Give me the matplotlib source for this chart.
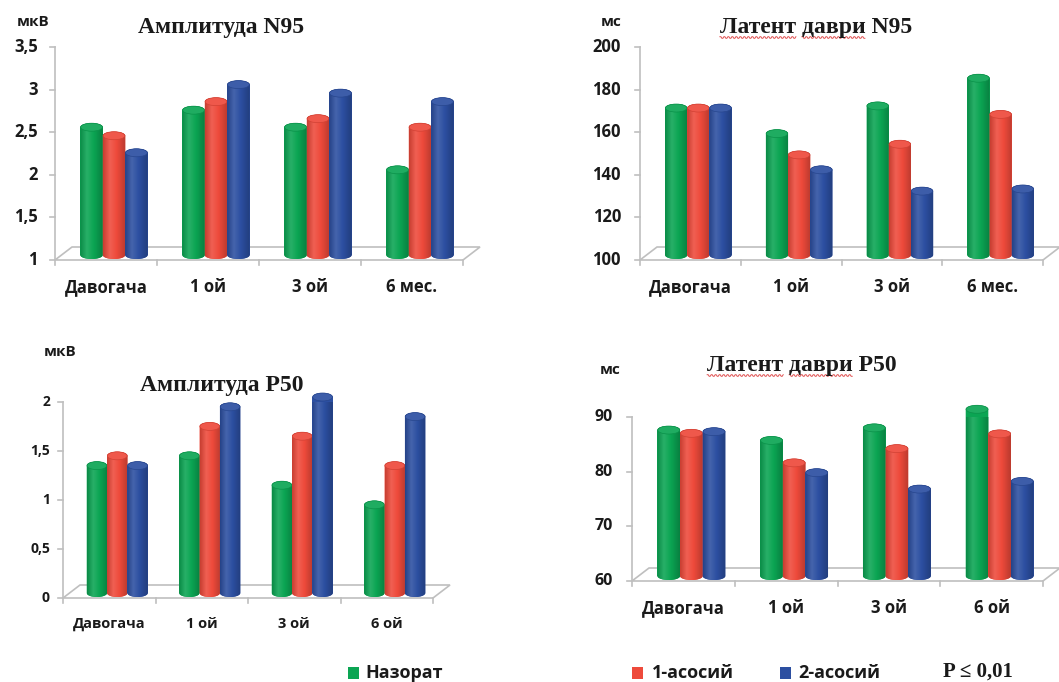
import numpy as np
import matplotlib
matplotlib.use("Agg")
import matplotlib.pyplot as plt
from matplotlib.patches import PathPatch, Ellipse, Rectangle, Polygon
from matplotlib.path import Path
from matplotlib.lines import Line2D
from matplotlib.colors import LinearSegmentedColormap, to_rgb

W, H = 1059, 682
SANS = ["Open Sans", "DejaVu Sans"]
SERIF = ["Liberation Serif", "DejaVu Serif"]
GRID = "#bfbfbf"
INK = "#1a1a1a"

# --- data -------------------------------------------------------------
cats_month = ["Давогача", "1 ой", "3 ой", "6 мес."]
cats_oy = ["Давогача", "1 ой", "3 ой", "6 ой"]
series_names = ["Назорат", "1-асосий", "2-асосий"]
series_colors = ["#0ba553", "#ee4a3b", "#2c4fa1"]

amp_n95_nazorat = [2.5, 2.7, 2.5, 2.0]
amp_n95_g1 = [2.4, 2.8, 2.6, 2.5]
amp_n95_g2 = [2.2, 3.0, 2.9, 2.8]
amp_n95_ticks = [1, 1.5, 2, 2.5, 3, 3.5]

lat_n95_nazorat = [169, 157, 170, 183]
lat_n95_g1 = [169, 147, 152, 166]
lat_n95_g2 = [169, 140, 130, 131]
lat_n95_ticks = [100, 120, 140, 160, 180, 200]

amp_p50_nazorat = [1.3, 1.4, 1.1, 0.9]
amp_p50_g1 = [1.4, 1.7, 1.6, 1.3]
amp_p50_g2 = [1.3, 1.9, 2.0, 1.8]
amp_p50_ticks = [0, 0.5, 1, 1.5, 2]

lat_p50_nazorat = [86.7, 84.8, 87.1, 90.5]
lat_p50_g1 = [86.1, 80.7, 83.3, 86.0]
lat_p50_g2 = [86.4, 78.9, 75.9, 77.3]
lat_p50_ticks = [60, 70, 80, 90]

fig = plt.figure(figsize=(W / 100, H / 100), dpi=100)
fig.patch.set_facecolor("white")


def fx(x):
    return x / W


def fy(y):
    return 1 - y / H


def cyl_cmap(c):
    c = np.array(to_rgb(c))
    light = c + (1 - c) * 0.12
    return LinearSegmentedColormap.from_list(
        "cyl", [(0, c * 0.84), (0.3, light), (0.6, c), (1, c * 0.78)])


def panel(box, series, cats, yticks, fs_tick, fs_cat, cat_y, gap,
          depth=(17, 13), base_px=5, cap_px=4):
    left, top, right, bottom = box
    wpx, hpx = right - left, bottom - top
    ax = fig.add_axes([fx(left), fy(bottom), wpx / W, hpx / H])
    ymin, ymax = yticks[0], yticks[-1]
    ax.axis("off")

    # 3d-ish floor and y axis
    dxf, dyf = depth[0] / wpx, depth[1] / hpx
    ax.add_patch(Polygon([(0, 0), (1, 0), (1 + dxf, dyf), (dxf, dyf)], closed=True,
                         fill=False, edgecolor=GRID, lw=1.2,
                         transform=ax.transAxes, clip_on=False))
    ax.add_line(Line2D([0, 0], [0, 1], color=GRID, lw=1.2,
                       transform=ax.transAxes, clip_on=False))
    ytr = ax.get_yaxis_transform()
    for t in yticks:
        ax.add_line(Line2D([-5 / wpx, 0], [t, t], color=GRID, lw=1.2,
                           transform=ytr, clip_on=False))
        ax.text(-gap / wpx, t, f"{t:g}".replace(".", ","), transform=ytr,
                ha="right", va="center", fontsize=fs_tick, fontweight="bold",
                family=SANS, color=INK)
    xtr = ax.get_xaxis_transform()
    for b in np.arange(len(cats) + 1) - 0.5:
        ax.add_line(Line2D([b, b], [0, -5 / hpx], color=GRID, lw=1.2,
                           transform=xtr, clip_on=False))
    for i, c in enumerate(cats):
        ax.text(i, -(cat_y - bottom) / hpx, c, transform=xtr, ha="center",
                va="center", fontsize=fs_cat, fontweight="bold", family=SANS,
                color=INK)

    # cylinders
    bw = 0.22
    shift = 8 / (wpx / len(cats))
    d = base_px / hpx * (ymax - ymin)
    hc = cap_px / hpx * (ymax - ymin)
    xpos = np.arange(len(cats))
    for j, (vals, col) in enumerate(zip(series, series_colors)):
        vals = np.asarray(vals, dtype=float)
        bars = ax.bar(xpos + shift + (j - 1) * bw, vals - ymin, bottom=ymin + d,
                      width=bw, color=col, lw=0, zorder=2 + j, clip_on=False)
        cc = np.array(to_rgb(col))
        for r in bars:
            x0, w = r.get_x(), r.get_width()
            y0, y1 = r.get_y(), r.get_y() + r.get_height()
            xc = x0 + w / 2
            th_top = np.linspace(np.pi, 0, 40)
            th_bot = np.linspace(0, -np.pi, 40)
            xs = np.concatenate([xc + w / 2 * np.cos(th_top), xc + w / 2 * np.cos(th_bot)])
            ys = np.concatenate([y1 + hc * np.sin(th_top), y0 + hc * np.sin(th_bot)])
            patch = PathPatch(Path(np.column_stack([xs, ys]), closed=False),
                              facecolor=col, lw=0, zorder=2 + j, clip_on=False)
            ax.add_patch(patch)
            im = ax.imshow(np.linspace(0, 1, 64).reshape(1, -1),
                           extent=(x0, x0 + w, y0 - hc, y1 + hc), aspect="auto",
                           cmap=cyl_cmap(col), interpolation="bilinear",
                           zorder=2 + j)
            im.set_clip_path(patch)
            im.set_clip_box(None)
            ax.add_patch(Ellipse((xc, y1), w * 0.97, 2 * hc,
                                 facecolor=cc + (1 - cc) * 0.08,
                                 edgecolor=cc * 0.88, lw=0.5, zorder=2 + j,
                                 clip_on=False))
    ax.set_xlim(-0.5, len(cats) - 0.5)
    ax.set_ylim(ymin, ymax)
    return ax


panel((55, 47, 463, 260), [amp_n95_nazorat, amp_n95_g1, amp_n95_g2], cats_month,
      amp_n95_ticks, 12, 12, 287, 17)
panel((640, 47, 1043, 260), [lat_n95_nazorat, lat_n95_g1, lat_n95_g2], cats_month,
      lat_n95_ticks, 12, 12, 287, 19)
panel((63, 402, 433, 598), [amp_p50_nazorat, amp_p50_g1, amp_p50_g2], cats_oy,
      amp_p50_ticks, 10, 10.5, 624, 13)
panel((632, 417, 1043, 581), [lat_p50_nazorat, lat_p50_g1, lat_p50_g2], cats_oy,
      lat_p50_ticks, 11.5, 12, 608, 19)

# titles and units
titles = [
    ("Амплитуда N95", 221, 28, False),
    ("Латент даври N95", 816, 28, True),
    ("Амплитуда P50", 222, 385, False),
    ("Латент даври P50", 802, 366, True),
]
title_objs = []
for txt, x, y, wavy in titles:
    t = fig.text(fx(x), fy(y), txt, ha="center", va="center", fontsize=17,
                 fontweight="bold", family=SERIF, color=INK)
    title_objs.append((t, wavy))

for txt, x, y in [("мкВ", 33, 22), ("мс", 611, 22), ("мкВ", 60, 352), ("мс", 610, 370)]:
    fig.text(fx(x), fy(y), txt, ha="center", va="center", fontsize=11,
             fontweight="bold", family=SANS, color=INK)

# red spell-check squiggle under the uzbek words
fig.canvas.draw()
rend = fig.canvas.get_renderer()
for t, wavy in title_objs:
    if not wavy:
        continue
    bb = t.get_window_extent(rend)
    fp = t.get_fontproperties()
    words = t.get_text().split(" ")
    for k, wd in enumerate(words[:2]):
        prefix = " ".join(words[:k]) + (" " if k else "")
        a = rend.get_text_width_height_descent(prefix, fp, ismath=False)[0] if prefix else 0
        b = rend.get_text_width_height_descent(prefix + wd, fp, ismath=False)[0]
        xs = np.arange(bb.x0 + a, bb.x0 + b, 1.0)
        ys = bb.y0 + 1 + 0.8 * np.where(np.arange(len(xs)) % 4 < 2, 1, -1)
        fig.add_artist(Line2D(xs / W, ys / H, color="#e05050", lw=0.7,
                              transform=fig.transFigure))

# legend row
legend_items = [(0, 348, 365), (1, 632, 652), (2, 780, 798)]
for j, sx, tx in legend_items:
    fig.add_artist(Rectangle((fx(sx), fy(679)), 11 / W, 12 / H,
                             facecolor=series_colors[j], lw=0,
                             transform=fig.transFigure))
    fig.text(fx(tx), fy(673), series_names[j], ha="left", va="center",
             fontsize=13, fontweight="bold", family=SANS, color=INK)
fig.text(fx(943), fy(672), "P ≤ 0,01", ha="left", va="center", fontsize=15,
         fontweight="bold", family=SERIF, color=INK)

fig.savefig("out.png", dpi=100, facecolor="white")
